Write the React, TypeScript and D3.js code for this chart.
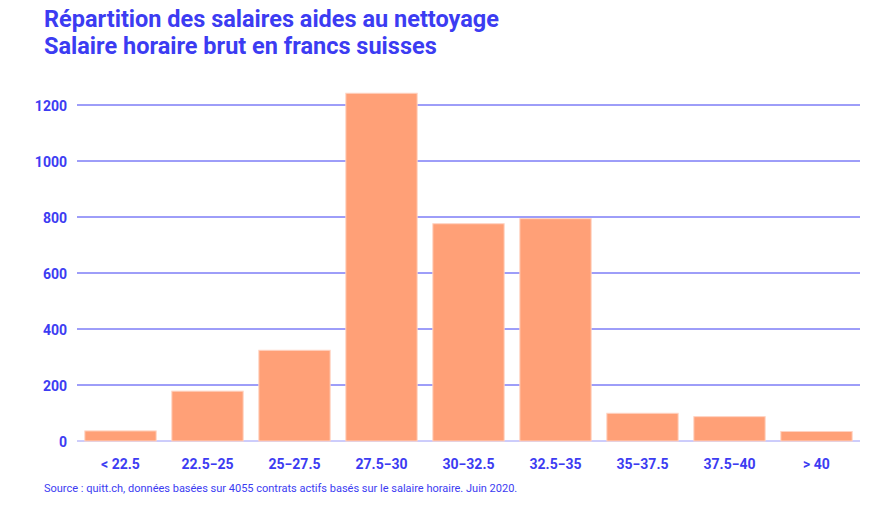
import { useEffect, useRef } from "react";
import * as d3 from "d3";

// salary brackets (CHF / hour) and number of contracts
const categories = ["< 22.5", "22.5−25", "25−27.5", "27.5−30", "30−32.5", "32.5−35", "35−37.5", "37.5−40", "> 40"];
const counts = [36, 178, 324, 1242, 776, 794, 99, 87, 34];
const yTicks = [0, 200, 400, 600, 800, 1000, 1200];

const titleLines = ["Répartition des salaires aides au nettoyage", "Salaire horaire brut en francs suisses"];
const sourceText =
  "Source : quitt.ch, données basées sur 4055 contrats actifs basés sur le salaire horaire. Juin 2020.";

const BLUE = "#3c3cf2";
const BAR = "#ffa077";

const App = () => {
  const svgRef = useRef<SVGSVGElement>(null);
  const width = 883;
  const height = 509;

  useEffect(() => {
    if (!svgRef.current) return;
    const svg = d3.select(svgRef.current);
    svg.selectAll("*").remove();

    const margin = { top: 105, right: 23, bottom: 68, left: 77 };
    const innerWidth = width - margin.left - margin.right;
    const innerHeight = height - margin.top - margin.bottom;

    const x = d3.scaleBand<string>().domain(categories).range([0, innerWidth]).paddingInner(0.18).paddingOuter(0.09);
    const y = d3.scaleLinear().domain([0, 1200]).range([innerHeight, 0]);

    // title
    svg
      .append("g")
      .selectAll("text")
      .data(titleLines)
      .join("text")
      .attr("x", 44)
      .attr("y", (_, i) => 27 + i * 27)
      .attr("fill", BLUE)
      .attr("font-family", "Roboto, sans-serif")
      .attr("font-weight", 700)
      .attr("font-size", 23.5)
      .text((d) => d);

    const g = svg.append("g").attr("transform", `translate(${margin.left}, ${margin.top})`);

    // gridlines
    g.append("g")
      .selectAll("line")
      .data(yTicks)
      .join("line")
      .attr("x1", 0)
      .attr("x2", innerWidth)
      .attr("y1", (d) => y(d))
      .attr("y2", (d) => y(d))
      .attr("stroke", (d) => (d === 0 ? "#9a9af7" : BLUE))
      .attr("stroke-width", 1);

    // y labels
    g.append("g")
      .selectAll("text")
      .data(yTicks)
      .join("text")
      .attr("x", -10)
      .attr("y", (d) => y(d))
      .attr("dy", "0.4em")
      .attr("text-anchor", "end")
      .attr("fill", BLUE)
      .attr("font-family", "Roboto, sans-serif")
      .attr("font-weight", 700)
      .attr("font-size", 14)
      .text((d) => d);

    // bars
    g.append("g")
      .selectAll("rect")
      .data(counts)
      .join("rect")
      .attr("x", (_, i) => x(categories[i])!)
      .attr("y", (d) => y(d))
      .attr("width", x.bandwidth())
      .attr("height", (d) => y(0) - y(d))
      .attr("fill", BAR)
      .attr("stroke", "#ffd3c2")
      .attr("stroke-width", 1);

    // x labels
    g.append("g")
      .selectAll("text")
      .data(categories)
      .join("text")
      .attr("x", (d) => x(d)! + x.bandwidth() / 2)
      .attr("y", innerHeight + 28)
      .attr("text-anchor", "middle")
      .attr("fill", BLUE)
      .attr("font-family", "Roboto, sans-serif")
      .attr("font-weight", 700)
      .attr("font-size", 14)
      .text((d) => d);

    // source
    svg
      .append("text")
      .attr("x", 44)
      .attr("y", 492)
      .attr("fill", BLUE)
      .attr("font-family", "Roboto, sans-serif")
      .attr("font-size", 11)
      .text(sourceText);
  }, []);

  return <svg ref={svgRef} width={width} height={height} style={{ display: "block", margin: -8 }} />;
};

export default App;
